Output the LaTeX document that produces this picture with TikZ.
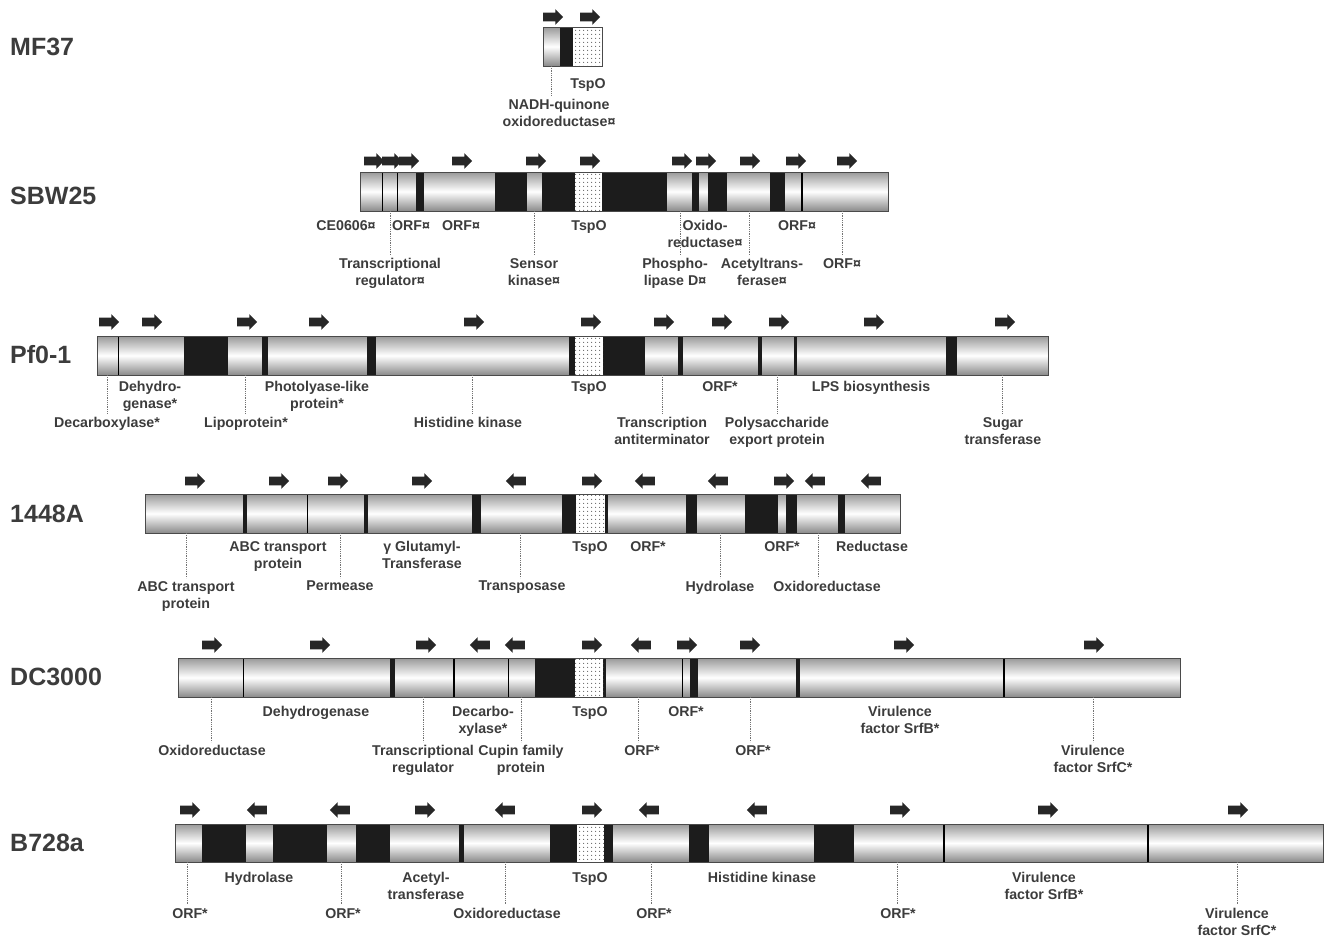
\documentclass[tikz,border=0pt]{standalone}
\usepackage{fontspec}
\setmainfont{Liberation Sans}
\usepackage{tikz}
\usetikzlibrary{shapes.arrows}
\usetikzlibrary{patterns.meta}
\usetikzlibrary{calc}

\definecolor{igr}{HTML}{1C1C1C}
\definecolor{txt}{HTML}{3C3C3C}
\definecolor{rim}{HTML}{4A4A4A}

\tikzset{
  gene/.style={top color=black!40, bottom color=black!46, middle color=white},
  spacer/.style={fill=igr},
  tspo/.style={preaction={fill=white}, pattern={Dots[distance=4pt, radius=0.7pt]}, pattern color=black!60},
  genesep/.style={draw=black, line width=1.2pt},
  rim/.style={draw=rim, line width=1pt},
  fwd/.style={single arrow, fill=igr!95, draw=none, minimum height=20pt, minimum width=0pt,
    single arrow head extend=3.5pt, single arrow head indent=0pt, inner xsep=0pt, inner ysep=4.2pt},
  rev/.style={fwd, shape border rotate=180},
  lbl/.style={anchor=north, inner sep=0pt, align=center, text=txt, font=\fontsize{14.2}{17}\selectfont\bfseries},
  strain/.style={anchor=west, inner sep=0pt, text=txt, font=\fontsize{25}{30}\selectfont\bfseries},
  leader/.style={densely dotted, draw=black!55, line width=0.8pt, shorten >=3pt}
}

\begin{document}
\begin{tikzpicture}[x=1pt, y=-1pt]
  \useasboundingbox (0,0) rectangle (1324,938);

  % MF37
  \shade[gene] (543,27) rectangle (602,66);
  \fill[spacer] (560,27) rectangle (573,66);
  \fill[tspo] (573,27) rectangle (602,66);
  \draw[rim] (543,27) rectangle (602,66);
  \node[strain] (mf37) at (10,47) {MF37};
  \foreach \x [count=\i] in {551,588}
    \node[fwd] (mf37-a\i) at (\x,17) {};
  \node[lbl] (mf37-u1) at (588,78) {TspO};
  \coordinate (mf37-c1) at (551,66);
  \node[lbl] (mf37-d1) at (559,99) {NADH-quinone\\oxidoreductase¤};
  \draw[leader] (mf37-c1) -- (mf37-c1 |- mf37-d1.north);

  % SBW25
  \shade[gene] (360,172) rectangle (888,211);
  \foreach \a/\b in {416/424,495/527,542/575,602/667,692/699,708/727,770/785}
    \fill[spacer] (\a,172) rectangle (\b,211);
  \fill[tspo] (575,172) rectangle (602,211);
  \foreach \x in {382.5,397.8,802}
    \draw[genesep] (\x,172) -- (\x,211);
  \draw[rim] (360,172) rectangle (888,211);
  \node[strain] (sbw25) at (10,196) {SBW25};
  \foreach \x [count=\i] in {372,390,407,460,534,588,680,704,748,794,845}
    \node[fwd] (sbw25-a\i) at (\x,161) {};
  \foreach \x/\t [count=\i] in {346/CE0606¤,411/ORF¤,461/ORF¤,589/TspO,705/{Oxido-\\reductase¤},797/ORF¤}
    \node[lbl] (sbw25-u\i) at (\x,220) {\t};
  \foreach \c/\x/\t [count=\i] in {390/390/{Transcriptional\\regulator¤},534/534/{Sensor\\kinase¤},
      680/675/{Phospho-\\lipase D¤},749/762/{Acetyltrans-\\ferase¤},842/842/ORF¤}{
    \coordinate (sbw25-c\i) at (\c,211);
    \node[lbl] (sbw25-d\i) at (\x,258) {\t};
    \draw[leader] (sbw25-c\i) -- (sbw25-c\i |- sbw25-d\i.north);
  }

  % Pf0-1
  \shade[gene] (97,336) rectangle (1048,375);
  \foreach \a/\b in {184/228,262/268,366.5/375.5,569/575,603/645,678/683,758/762,794/797,946/957}
    \fill[spacer] (\a,336) rectangle (\b,375);
  \fill[tspo] (575,336) rectangle (603,375);
  \draw[genesep] (118.5,336) -- (118.5,375);
  \draw[rim] (97,336) rectangle (1048,375);
  \node[strain] (pf01) at (10,355) {Pf0-1};
  \foreach \x [count=\i] in {107,150,245,317,472,589,662,720,777,872,1003}
    \node[fwd] (pf01-a\i) at (\x,322) {};
  \foreach \x/\t [count=\i] in {150/{Dehydro-\\genase*},317/{Photolyase-like\\protein*},589/TspO,720/ORF*,871/LPS biosynthesis}
    \node[lbl] (pf01-u\i) at (\x,381) {\t};
  \foreach \c/\x/\t [count=\i] in {107/107/Decarboxylase*,245/246/Lipoprotein*,472/468/Histidine kinase,
      662/662/{Transcription\\antiterminator},777/777/{Polysaccharide\\export protein},1002/1003/{Sugar\\transferase}}{
    \coordinate (pf01-c\i) at (\c,375);
    \node[lbl] (pf01-d\i) at (\x,417) {\t};
    \draw[leader] (pf01-c\i) -- (pf01-c\i |- pf01-d\i.north);
  }

  % 1448A
  \shade[gene] (145,494) rectangle (900,533);
  \foreach \a/\b in {242.7/246.7,364.3/368.3,472.3/481,562.3/576,605/608.3,686/696.7,745/778.3,785.7/796.7,838.3/845}
    \fill[spacer] (\a,494) rectangle (\b,533);
  \fill[tspo] (576,494) rectangle (605,533);
  \draw[genesep] (307.7,494) -- (307.7,533);
  \draw[rim] (145,494) rectangle (900,533);
  \node[strain] (s1448a) at (10,514) {1448A};
  \foreach \x/\d [count=\i] in {193/fwd,277/fwd,336/fwd,420/fwd,518/rev,590/fwd,647/rev,720/rev,782/fwd,817/rev,873/rev}
    \node[\d] (s1448a-a\i) at (\x,481) {};
  \foreach \x/\t [count=\i] in {278/{ABC transport\\protein},422/{γ Glutamyl-\\Transferase},590/TspO,648/ORF*,782/ORF*,872/Reductase}
    \node[lbl] (s1448a-u\i) at (\x,541) {\t};
  \foreach \c/\x/\t [count=\i] in {186/186/{ABC transport\\protein},340/340/Permease,520/522/Transposase,
      720/720/Hydrolase,818/827/Oxidoreductase}{
    \coordinate (s1448a-c\i) at (\c,533);
    \node[lbl] (s1448a-d\i) at (\x,581) {\t};
    \draw[leader] (s1448a-c\i) -- (s1448a-c\i |- s1448a-d\i.north);
  }

  % DC3000
  \shade[gene] (178,658) rectangle (1180,697);
  \foreach \a/\b in {390/395,535/575,603.3/606,690/697.7,796/800}
    \fill[spacer] (\a,658) rectangle (\b,697);
  \fill[tspo] (575,658) rectangle (603.3,697);
  \foreach \x in {243.3,454,508.3,682.3,1004}
    \draw[genesep] (\x,658) -- (\x,697);
  \draw[rim] (178,658) rectangle (1180,697);
  \node[strain] (dc3000) at (10,677) {DC3000};
  \foreach \x/\d [count=\i] in {210/fwd,318/fwd,424/fwd,482/rev,517/rev,590/fwd,643/rev,685/fwd,748/fwd,902/fwd,1092/fwd}
    \node[\d] (dc3000-a\i) at (\x,645) {};
  \foreach \x/\t [count=\i] in {316/Dehydrogenase,483/{Decarbo-\\xylase*},590/TspO,686/ORF*,900/{Virulence\\factor SrfB*}}
    \node[lbl] (dc3000-u\i) at (\x,706) {\t};
  \foreach \c/\x/\t [count=\i] in {211/212/Oxidoreductase,423/423/{Transcriptional\\regulator},521/521/{Cupin family\\protein},
      638/642/ORF*,750/753/ORF*,1093/1093/{Virulence\\factor SrfC*}}{
    \coordinate (dc3000-c\i) at (\c,697);
    \node[lbl] (dc3000-d\i) at (\x,745) {\t};
    \draw[leader] (dc3000-c\i) -- (dc3000-c\i |- dc3000-d\i.north);
  }

  % B728a
  \shade[gene] (175,824) rectangle (1323,862);
  \foreach \a/\b in {201.7/246,273.3/326.7,356/390,459/464.3,550/576.7,604.3/613,689/708.6,814/854}
    \fill[spacer] (\a,824) rectangle (\b,862);
  \fill[tspo] (576.7,824) rectangle (604.3,862);
  \foreach \x in {944,1148}
    \draw[genesep] (\x,824) -- (\x,862);
  \draw[rim] (175,824) rectangle (1323,862);
  \node[strain] (b728a) at (10,843) {B728a};
  \foreach \x/\d [count=\i] in {188/fwd,259/rev,342/rev,423/fwd,507/rev,590/fwd,651/rev,759/rev,898/fwd,1046/fwd,1236/fwd}
    \node[\d] (b728a-a\i) at (\x,810) {};
  \foreach \x/\t [count=\i] in {259/Hydrolase,426/{Acetyl-\\transferase},590/TspO,762/Histidine kinase,1044/{Virulence\\factor SrfB*}}
    \node[lbl] (b728a-u\i) at (\x,872) {\t};
  \foreach \c/\x/\t [count=\i] in {187/190/ORF*,341/343/ORF*,505/507/Oxidoreductase,651/654/ORF*,
      897/898/ORF*,1237/1237/{Virulence\\factor SrfC*}}{
    \coordinate (b728a-c\i) at (\c,862);
    \node[lbl] (b728a-d\i) at (\x,908) {\t};
    \draw[leader] (b728a-c\i) -- (b728a-c\i |- b728a-d\i.north);
  }
\end{tikzpicture}
\end{document}
